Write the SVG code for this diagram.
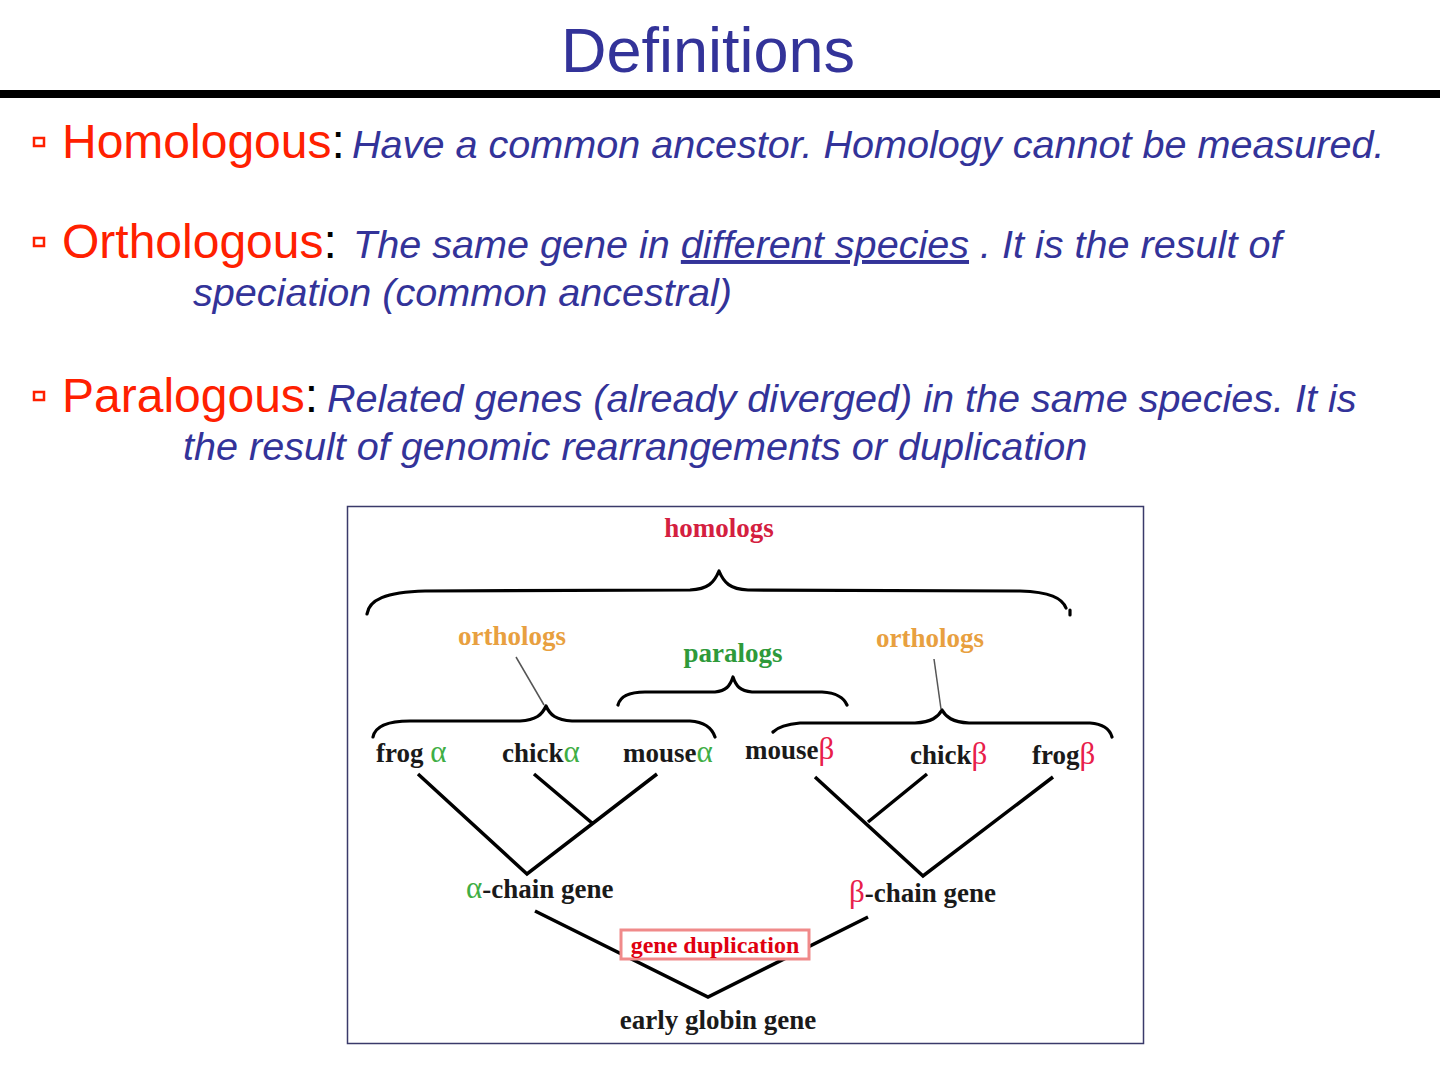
<svg xmlns="http://www.w3.org/2000/svg" width="1440" height="1080" viewBox="0 0 1440 1080">
<style>
.head{font-family:"Liberation Sans",Arial,sans-serif;font-size:48px;fill:#ff2000}
.colon{fill:#000}
.def{font-family:"Liberation Sans",Arial,sans-serif;font-size:39.6px;font-style:italic;fill:#333399}
.bul{fill:none;stroke:#ff2000;stroke-width:2.5}
.lbl{font-family:"Liberation Serif","Times New Roman",serif;font-weight:bold;font-size:27px;fill:#1a1a1a}
.gr{font-family:"Liberation Serif","Times New Roman",serif;font-size:31px;font-weight:normal}
.alpha{fill:#3fae45}
.beta{fill:#e8204a}
.brace{fill:none;stroke:#000;stroke-width:3.2;stroke-linecap:round;stroke-linejoin:round}
.tree{fill:none;stroke:#000;stroke-width:3.5;stroke-linecap:butt}
.ptr{fill:none;stroke:#555;stroke-width:1.5}
</style>
<rect width="1440" height="1080" fill="#fff"/>
<g id="title">
<text x="708" y="72" text-anchor="middle" font-family="Liberation Sans, Arial, sans-serif" font-size="63" fill="#333399">Definitions</text>
<rect x="0" y="90" width="1440" height="8" fill="#000"/>
</g>
<g id="def-homologous">
<rect class="bul" x="34" y="138" width="10" height="8"/>
<text y="158"><tspan class="head" x="62">Homologous</tspan><tspan class="head colon">:</tspan><tspan class="def" x="352">Have a common ancestor. Homology cannot be measured.</tspan></text>
</g>
<g id="def-orthologous">
<rect class="bul" x="34" y="238" width="10" height="8"/>
<text y="258"><tspan class="head" x="62">Orthologous</tspan><tspan class="head colon">:</tspan><tspan class="def" x="353">The same gene in <tspan text-decoration="underline">different species</tspan> . It is the result of</tspan></text>
<text class="def" x="193" y="306">speciation (common ancestral)</text>
</g>
<g id="def-paralogous">
<rect class="bul" x="34" y="392" width="10" height="8"/>
<text y="412"><tspan class="head" x="62">Paralogous</tspan><tspan class="head colon">:</tspan><tspan class="def" x="327">Related genes (already diverged) in the same species. It is</tspan></text>
<text class="def" x="183" y="460">the result of genomic rearrangements or duplication</text>
</g>
<g id="figure">
<rect x="347.5" y="506.5" width="796" height="537" fill="#fff" stroke="#3a3a6a" stroke-width="1.5"/>
</g>
<g id="connectors">
<path class="brace" d="M367,614 C369,600 385,592 425,591 L690,590 C708,589 714,583 719,571 C724,583 730,589 748,590 L1020,591 C1050,592 1062,598 1066,608"/>
<path class="brace" d="M1070,610 L1070,615"/>
<path class="brace" d="M373,737 C375,727 385,721 410,721 L520,721 C536,720 542,715 546,706 C550,715 556,720 572,721 L690,721 C705,722 712,728 715,737"/>
<path class="brace" d="M618,705 C620,697 628,692 645,692 L715,692 C726,691 730,686 733,677 C736,686 740,691 752,692 L822,692 C838,693 844,698 847,705"/>
<path class="brace" d="M773,732 C778,727 788,724 800,723 L915,723 C932,722 938,717 942,710 C946,717 952,722 969,723 L1090,723 C1104,724 1110,730 1112,737"/>
<path class="ptr" d="M516,657 L544,705"/>
<path class="ptr" d="M934,659 L941,709"/>
<path class="tree" d="M418,774 L527,874 L657,774 M534,774 L592,823"/>
<path class="tree" d="M815,777 L923,876 L1053,777 M927,774 L868,822"/>
<path class="tree" d="M535,911 L708,997 L868,917"/>
</g>
<g id="homologs"><text class="lbl" x="719" y="537" text-anchor="middle" style="fill:#d42040">homologs</text></g>
<g id="orthologs-left"><text class="lbl" x="512" y="645" text-anchor="middle" style="fill:#e8a040">orthologs</text></g>
<g id="paralogs"><text class="lbl" x="733" y="662" text-anchor="middle" style="fill:#2e9a3a">paralogs</text></g>
<g id="orthologs-right"><text class="lbl" x="930" y="647" text-anchor="middle" style="fill:#e8a040">orthologs</text></g>
<g id="frog-alpha"><text class="lbl" x="376" y="762">frog <tspan class="gr alpha">α</tspan></text></g>
<g id="chick-alpha"><text class="lbl" x="502" y="762">chick<tspan class="gr alpha">α</tspan></text></g>
<g id="mouse-alpha"><text class="lbl" x="623" y="762">mouse<tspan class="gr alpha">α</tspan></text></g>
<g id="mouse-beta"><text class="lbl" x="745" y="759">mouse<tspan class="gr beta">β</tspan></text></g>
<g id="chick-beta"><text class="lbl" x="910" y="764">chick<tspan class="gr beta">β</tspan></text></g>
<g id="frog-beta"><text class="lbl" x="1032" y="764">frog<tspan class="gr beta">β</tspan></text></g>
<g id="alpha-chain"><text class="lbl" x="466" y="898"><tspan class="gr alpha">α</tspan>-chain gene</text></g>
<g id="beta-chain"><text class="lbl" x="849" y="902"><tspan class="gr beta">β</tspan>-chain gene</text></g>
<g id="gene-duplication">
<rect x="621" y="930" width="188" height="29" fill="#fff" stroke="#f08a8a" stroke-width="3"/>
<text x="715" y="953" text-anchor="middle" font-family="Liberation Serif, Times New Roman, serif" font-weight="bold" font-size="24" fill="#e00010">gene duplication</text>
</g>
<g id="early-globin"><text class="lbl" x="718" y="1029" text-anchor="middle">early globin gene</text></g>
</svg>
